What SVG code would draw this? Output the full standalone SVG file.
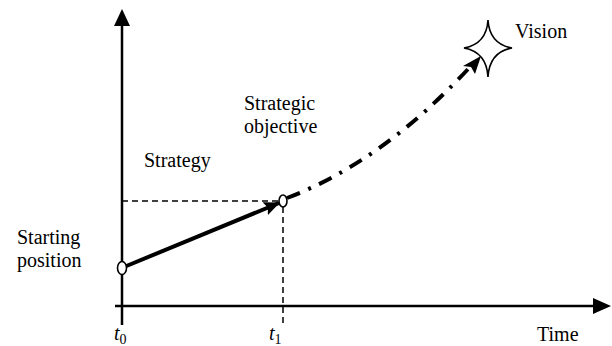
<svg xmlns="http://www.w3.org/2000/svg" width="612" height="346" viewBox="0 0 612 346">
<style>
.t{font-family:'Liberation Serif','Times New Roman','DejaVu Serif',serif;font-size:20px;fill:#000}
.axis{stroke:#000;stroke-width:2.5;fill:none}
.guide{stroke:#000;stroke-width:1.5;stroke-dasharray:6 4;fill:none}
.strat{stroke:#000;stroke-width:4;fill:none}
.future{stroke:#000;stroke-width:4;fill:none;stroke-dasharray:14 9 3 9}
.pt{fill:#fff;stroke:#000;stroke-width:1.6}
</style>
<defs>
<marker id="ah2" markerWidth="16" markerHeight="14" refX="15" refY="7" orient="auto" markerUnits="userSpaceOnUse">
<path d="M0,0 L16,7 L0,14 L3,7 Z" fill="#000"/>
</marker>
</defs>
<g id="connectors">
<line class="axis" x1="122" y1="325" x2="122" y2="24"/>
<path d="M122,9 L130,26 L114,26 Z" fill="#000"/>
<line class="axis" x1="115" y1="306" x2="595" y2="306"/>
<path d="M611,306 L593,298 L593,314 Z" fill="#000"/>
<line class="guide" x1="122" y1="201" x2="280" y2="201"/>
<line class="guide" x1="283" y1="207" x2="283" y2="325"/>
<line class="strat" x1="124" y1="267" x2="279" y2="203" marker-end="url(#ah2)"/>
<path class="future" d="M287,198 Q382,162 470,67"/>
<path d="M481,56 L475,74 L471,67 L463,66 Z" fill="#000"/>
</g>
<g id="start"><ellipse class="pt" cx="122" cy="268" rx="4.5" ry="6.5"/></g>
<g id="objective"><ellipse class="pt" cx="283" cy="201" rx="4" ry="6"/></g>
<g id="vision-star"><path d="M488,20 Q489.5,44 512,48 Q489.5,52 488,77 Q486.5,52 464,48 Q486.5,44 488,20 Z" fill="#fff" stroke="#000" stroke-width="1.6"/></g>
<g id="labels">
<text class="t" x="515" y="38">Vision</text>
<text class="t" x="244" y="110">Strategic</text>
<text class="t" x="244" y="133">objective</text>
<text class="t" x="144" y="167">Strategy</text>
<text class="t" x="17" y="244">Starting</text>
<text class="t" x="17" y="267">position</text>
<text class="t" x="537" y="341">Time</text>
<text class="t" x="114" y="340" font-style="italic">t<tspan font-size="14" dy="4" font-style="normal">0</tspan></text>
<text class="t" x="269" y="340" font-style="italic">t<tspan font-size="14" dy="4" font-style="normal">1</tspan></text>
</g>
</svg>
